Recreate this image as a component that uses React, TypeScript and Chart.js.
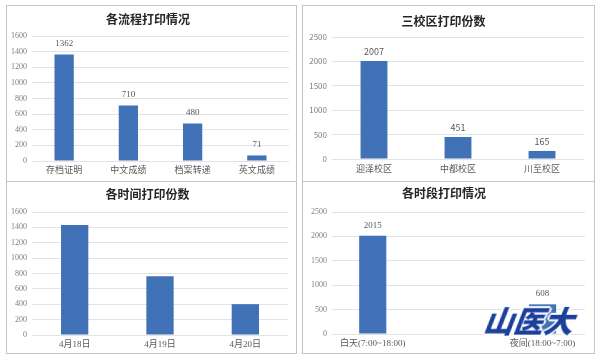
import React, { useEffect, useRef } from 'react';
import { Chart, registerables } from 'chart.js';

Chart.register(...registerables);

// ---- data ----
const processLabels = ['存档证明', '中文成绩', '档案转递', '英文成绩'];
const processValues = [1362, 710, 480, 71];

const campusLabels = ['迎泽校区', '中都校区', '川至校区'];
const campusValues = [2007, 451, 165];

const dateLabels = ['4月18日', '4月19日', '4月20日'];
const dateValues = [1432, 763, 401];

const periodLabels = ['白天(7:00~18:00)', '夜间(18:00~7:00)'];
const periodValues = [2015, 608];

const BAR = '#4172b8';
const SERIF = '"Liberation Serif", "Noto Sans CJK SC", serif';
const SANS = '"Noto Sans CJK SC", "Noto Sans", sans-serif';
const TITLE_FONT = '"Noto Sans CJK SC", sans-serif';

type Geo = {
  cl: number; ct: number; cw: number; ch: number;
  al: number; ar: number; at: number; ab: number;
  titleY: number;
};

type Props = {
  title: string;
  labels: string[];
  values: number[];
  yMax: number;
  yStep: number;
  showValues: boolean;
  family: string;
  geo: Geo;
  barPct: number;
  linearX?: { min: number; max: number };
  valueOffset: number;
};

function BarPanel(p: Props) {
  const ref = useRef<HTMLCanvasElement | null>(null);
  useEffect(() => {
    const g = p.geo;
    const titleSize = 12;
    const lh = titleSize * 1.2;
    const tc = g.titleY - g.ct;
    const tPadTop = tc - lh / 2;
    const tPadBottom = (g.at - g.ct) - lh - tPadTop;
    const yW = g.al - g.cl;
    const padRight = g.cl + g.cw - g.ar;
    const xH = g.ct + g.ch - g.ab;

    const valuePlugin = {
      id: 'vals',
      afterDatasetsDraw(chart: any) {
        if (!p.showValues) return;
        const ctx = chart.ctx;
        const meta = chart.getDatasetMeta(0);
        ctx.save();
        ctx.fillStyle = '#595959';
        ctx.font = `9px ${p.family}`;
        ctx.textAlign = 'center';
        ctx.textBaseline = 'bottom';
        meta.data.forEach((el: any, i: number) => {
          ctx.fillText(String(p.values[i]), el.x, el.y - p.valueOffset);
        });
        ctx.restore();
      },
    };

    const data: any = p.linearX
      ? p.values.map((v, i) => ({ x: i, y: v }))
      : p.values;

    const xTicks = {
      autoSkip: false,
      maxRotation: 0,
      padding: 4,
      color: '#595959',
      font: { size: 9, family: p.family },
    };

    const xScale: any = p.linearX
      ? {
          type: 'linear',
          min: p.linearX.min,
          max: p.linearX.max,
          offset: false,
          grid: { display: false, drawTicks: false },
          border: { display: false },
          afterBuildTicks: (s: any) => {
            s.ticks = p.labels.map((_, i) => ({ value: i }));
          },
          ticks: { ...xTicks, callback: (v: any) => p.labels[v] ?? '' },
          afterFit: (s: any) => { s.height = xH; },
        }
      : {
          type: 'category',
          grid: { display: false, drawTicks: false },
          border: { display: false },
          ticks: xTicks,
          afterFit: (s: any) => { s.height = xH; },
        };

    const chart = new Chart(ref.current as HTMLCanvasElement, {
      type: 'bar',
      data: {
        labels: p.linearX ? undefined : p.labels,
        datasets: [{
          data,
          backgroundColor: BAR,
          borderWidth: 0,
          barPercentage: p.barPct,
          categoryPercentage: 1,
        }],
      } as any,
      options: {
        responsive: false,
        animation: false,
        devicePixelRatio: 1,
        layout: { padding: { left: 0, right: padRight, top: 0, bottom: 0 } },
        plugins: {
          legend: { display: false },
          tooltip: { enabled: false },
          title: {
            display: true,
            text: p.title,
            color: '#262626',
            font: { size: titleSize, weight: 'bold', family: TITLE_FONT, lineHeight: 1.2 },
            padding: { top: tPadTop, bottom: tPadBottom },
          },
        },
        scales: {
          x: xScale,
          y: {
            min: 0,
            max: p.yMax,
            grid: { color: '#e3e3e3', drawTicks: false, lineWidth: 1 },
            border: { display: false },
            ticks: {
              stepSize: p.yStep,
              padding: 5,
              color: '#7f7f7f',
              font: { size: 8, family: p.family },
              callback: (v: any) => String(v),
            },
            afterFit: (s: any) => { s.width = yW; },
          },
        },
      } as any,
      plugins: [valuePlugin],
    });
    return () => chart.destroy();
  }, []);
  const g = p.geo;
  return (
    <canvas
      ref={ref}
      width={g.cw}
      height={g.ch}
      style={{ position: 'absolute', left: g.cl, top: g.ct, width: g.cw, height: g.ch }}
    />
  );
}

const box = (left: number, top: number, width: number, height: number): React.CSSProperties => ({
  position: 'absolute', left, top, width, height, boxSizing: 'border-box',
  border: '1px solid #c4c4c4', background: '#fff',
});

export default function App() {
  return (
    <div style={{ position: 'fixed', left: 0, top: 0, width: 600, height: 361, background: '#fff', overflow: 'hidden' }}>
      <div style={box(6, 5, 291, 177)} />
      <div style={box(302, 5, 293, 177)} />
      <div style={box(6, 181, 291, 173)} />
      <div style={box(302, 181, 293, 173)} />
      <BarPanel
        title="各流程打印情况" labels={processLabels} values={processValues}
        yMax={1600} yStep={200} showValues family={SERIF} barPct={0.3} valueOffset={6}
        geo={{ cl: 7, ct: 6, cw: 288, ch: 174, al: 32, ar: 289, at: 36, ab: 161, titleY: 19 }}
      />
      <BarPanel
        title="三校区打印份数" labels={campusLabels} values={campusValues}
        yMax={2500} yStep={500} showValues family={SANS} barPct={0.32} valueOffset={5}
        geo={{ cl: 303, ct: 6, cw: 291, ch: 174, al: 332, ar: 584, at: 37, ab: 159, titleY: 21 }}
      />
      <BarPanel
        title="各时间打印份数" labels={dateLabels} values={dateValues}
        yMax={1600} yStep={200} showValues={false} family={SERIF} barPct={0.32} valueOffset={6}
        geo={{ cl: 7, ct: 182, cw: 288, ch: 171, al: 32, ar: 288, at: 212, ab: 335, titleY: 194 }}
      />
      <BarPanel
        title="各时段打印情况" labels={periodLabels} values={periodValues}
        yMax={2500} yStep={500} showValues family={SERIF} barPct={0.16} valueOffset={6}
        linearX={{ min: -0.24, max: 1.25 }}
        geo={{ cl: 303, ct: 182, cw: 291, ch: 171, al: 332, ar: 585, at: 212, ab: 334, titleY: 193 }}
      />
      <div
        style={{
          position: 'absolute', left: 484, top: 302, fontFamily: '"Noto Sans CJK SC", sans-serif',
          fontWeight: 900, fontStyle: 'italic', fontSize: 30, lineHeight: '36px', color: '#1b3f9c',
          letterSpacing: 0,
          textShadow: '1px 1px 0 #fff, -1px -1px 0 #fff, 1px -1px 0 #fff, -1px 1px 0 #fff, 2px 0 0 #fff, -2px 0 0 #fff, 0 2px 0 #fff, 0 -2px 0 #fff',
          transform: 'skewX(-8deg)',
        }}
      >
        山医大
      </div>
    </div>
  );
}
